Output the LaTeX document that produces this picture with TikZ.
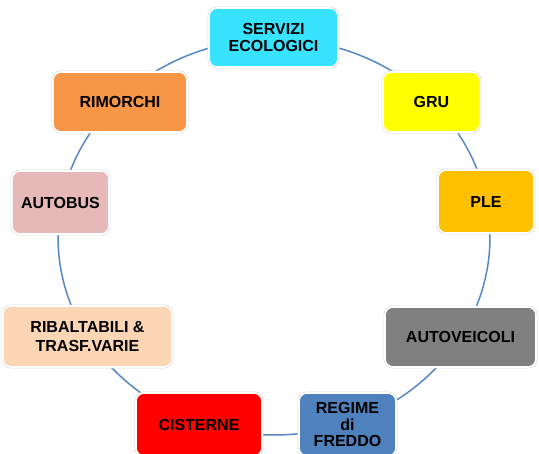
\documentclass[tikz,border=0pt]{standalone}
\usepackage{fontspec}
\setmainfont{Liberation Sans}
\definecolor{ringc}{RGB}{86,134,196}
\definecolor{cserv}{RGB}{56,227,255}
\definecolor{cgru}{RGB}{255,255,0}
\definecolor{cple}{RGB}{255,192,0}
\definecolor{cauto}{RGB}{128,128,128}
\definecolor{creg}{RGB}{79,129,189}
\definecolor{ccis}{RGB}{255,0,0}
\definecolor{crib}{RGB}{252,213,181}
\definecolor{cbus}{RGB}{230,185,184}
\definecolor{crim}{RGB}{247,150,70}
\begin{document}
\begin{tikzpicture}[x=1pt,y=-1pt,
  box/.style={rounded corners=8pt, draw=white, line width=1.6pt,
    preaction={draw=black!15, line width=2.8pt},
    align=center, font=\fontsize{16}{16.5}\selectfont\bfseries, inner sep=0pt, text=black},
  ring/.style={draw=ringc, line width=1.5pt}
]
\useasboundingbox (0,0) rectangle (539,454);
\draw[ring] (274,237) ellipse [x radius=216pt, y radius=198pt];
\node[box, fill=cserv, minimum width=129pt, minimum height=59pt] (serv) at (273.5,37.5) {SERVIZI\\[0pt]ECOLOGICI};
\node[box, fill=cgru, minimum width=97pt, minimum height=60pt] (gru) at (431.5,102) {GRU};
\node[box, fill=cple, minimum width=96pt, minimum height=63pt] (ple) at (486,201.5) {PLE};
\node[box, fill=cauto, minimum width=151pt, minimum height=60pt] (auto) at (460.5,337) {AUTOVEICOLI};
\node[box, fill=creg, minimum width=97pt, minimum height=63pt] (reg) at (347.5,424.5) {REGIME\\di\\FREDDO};
\node[box, fill=ccis, minimum width=126pt, minimum height=63pt] (cis) at (199,424.5) {CISTERNE};
\node[box, fill=crib, minimum width=169pt, minimum height=61pt] (rib) at (87.5,336.5) {RIBALTABILI \&\\[3pt]TRASF.VARIE};
\node[box, fill=cbus, minimum width=97pt, minimum height=63pt] (bus) at (60.5,202.5) {AUTOBUS};
\node[box, fill=crim, minimum width=134pt, minimum height=60pt] (rim) at (120,102) {RIMORCHI};
\end{tikzpicture}
\end{document}
